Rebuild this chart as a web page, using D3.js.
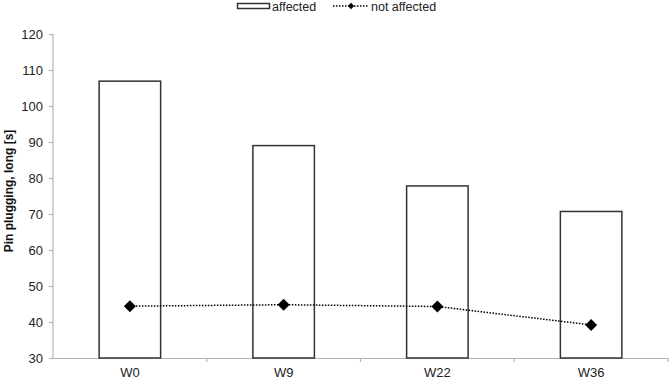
<!DOCTYPE html>
<html><head><meta charset="utf-8">
<script src="https://cdn.jsdelivr.net/npm/d3@7"></script>
<style>body{margin:0;background:#fff}svg{display:block;font-family:Arial,"Liberation Sans",sans-serif}</style>
</head><body>
<svg id="c" width="670" height="380"></svg>
<script>
const categories = ["W0","W9","W22","W36"];
const affected = [106.9, 89.0, 77.8, 70.7];
const notAffected = [44.4, 44.8, 44.3, 39.2];
const yTicks = [30,40,50,60,70,80,90,100,110,120];

(function(){
const svg = d3.select("#c");
const mLeft = 53, mRight = 668, mTop = 34, mBottom = 358;
const x = d3.scaleBand().domain(categories).range([mLeft, mRight]).padding(0);
const y = d3.scaleLinear().domain([30,120]).range([mBottom, mTop]);
const axisCol = "#b4b4b4";

// y axis
const ya = svg.append("g").attr("transform",`translate(${mLeft},0)`)
  .call(d3.axisLeft(y).tickValues(yTicks).tickSize(4).tickPadding(6));
ya.select(".domain").attr("stroke",axisCol).attr("stroke-width",1.2).attr("d",`M0,${mTop}V${mBottom+0.5}`);
ya.selectAll(".tick line").attr("stroke",axisCol).attr("stroke-width",1.2);
ya.selectAll(".tick text").attr("font-size",13).attr("fill","#222").attr("font-family","Arial, 'Liberation Sans', sans-serif");

// x axis
const xa = svg.append("g").attr("transform",`translate(0,${mBottom})`)
  .call(d3.axisBottom(x).tickSize(0).tickPadding(10));
xa.select(".domain").attr("stroke",axisCol).attr("stroke-width",1.2).attr("d",`M${mLeft},0.5H${mRight}`);
xa.selectAll(".tick text").attr("font-size",13).attr("fill","#222").attr("font-family","Arial, 'Liberation Sans', sans-serif");
const bounds = categories.map(c => x(c) + x.bandwidth());
svg.append("g").selectAll("line").data(bounds).join("line")
  .attr("x1",d=>d).attr("x2",d=>d).attr("y1",mBottom).attr("y2",mBottom+4)
  .attr("stroke",axisCol).attr("stroke-width",1.2);

// bars
const bw = x.bandwidth()*0.4;
svg.append("g").selectAll("rect").data(affected).join("rect")
  .attr("x",(d,i)=>x(categories[i]) + x.bandwidth()/2 - bw/2)
  .attr("y",d=>y(d))
  .attr("width",bw).attr("height",d=>mBottom - y(d))
  .attr("fill","#fff").attr("stroke","#333").attr("stroke-width",1.5);

// line
const cx = i => x(categories[i]) + x.bandwidth()/2;
svg.append("path").datum(notAffected)
  .attr("d", d3.line().x((d,i)=>cx(i)).y(d=>y(d)))
  .attr("fill","none").attr("stroke","#000").attr("stroke-width",1.5).attr("stroke-dasharray","1.5,1.5");
const diamond = d3.symbol().type(d3.symbolSquare).size(72);
svg.append("g").selectAll("path").data(notAffected).join("path")
  .attr("transform",(d,i)=>`translate(${cx(i)},${y(d)}) rotate(45)`)
  .attr("d",diamond).attr("fill","#000");

// y title
svg.append("text").attr("transform",`translate(9,191) rotate(-90)`)
  .attr("text-anchor","middle").attr("dy","0.35em")
  .attr("font-size",12).attr("font-weight","bold").attr("fill","#111")
  .text("Pin plugging, long [s]");

// legend
const lg = svg.append("g");
lg.append("rect").attr("x",237.5).attr("y",3.5).attr("width",32).attr("height",5)
  .attr("fill","#fff").attr("stroke","#333").attr("stroke-width",1.5);
lg.append("text").attr("x",272).attr("y",11).attr("font-size",12.5).attr("fill","#222").text("affected");
lg.append("line").attr("x1",333).attr("x2",368).attr("y1",6).attr("y2",6)
  .attr("stroke","#000").attr("stroke-width",1.5).attr("stroke-dasharray","1.5,1.5");
lg.append("path").attr("transform","translate(351,6) rotate(45)").attr("d",d3.symbol().type(d3.symbolSquare).size(20)).attr("fill","#000");
lg.append("text").attr("x",371).attr("y",11).attr("font-size",12.5).attr("fill","#222").text("not affected");
})();
</script>
</body></html>
